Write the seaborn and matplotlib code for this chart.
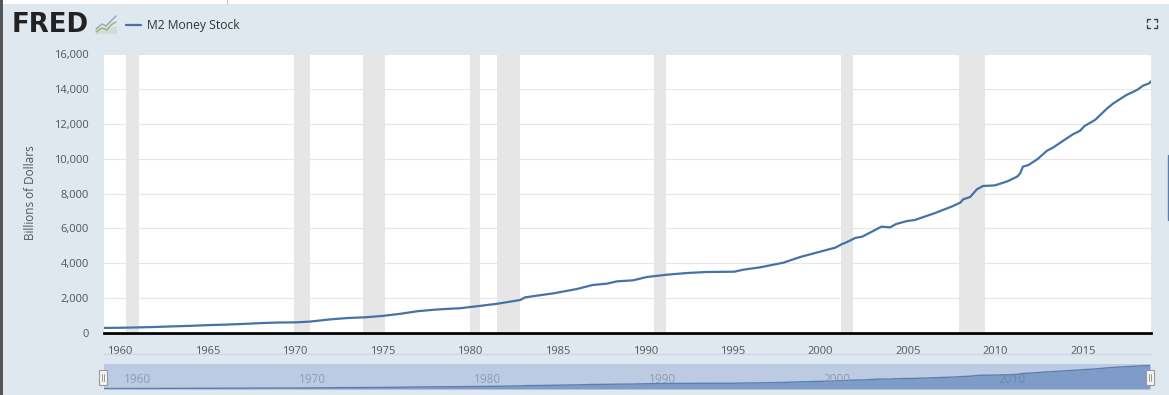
import matplotlib
matplotlib.use("Agg")
import matplotlib.pyplot as plt
from matplotlib.lines import Line2D
from matplotlib.patches import Rectangle
import pandas as pd
import seaborn as sns

years = [1959.0, 1960, 1961, 1962, 1963, 1964, 1965, 1966, 1967, 1968, 1969, 1970, 1970.8, 1972,
         1973, 1974, 1975, 1976, 1977, 1978, 1979, 1979.4, 1980.6, 1981.5, 1982.86, 1983.14, 1984.76,
         1986.1, 1987, 1987.8, 1988.4, 1989.3, 1990.1, 1991.26, 1992.4, 1993.5, 1995.1, 1995.6, 1996.57,
         1997.9, 1998.86, 2000.2, 2000.86, 2001.26, 2001.54, 2002, 2002.4, 2003.5, 2004, 2004.34, 2004.97,
         2005.4, 2006.46, 2007.5, 2008, 2008.17, 2008.57, 2008.95, 2009.3, 2009.7, 2010, 2010.7, 2011.25,
         2011.43, 2011.58, 2011.9, 2012.4, 2012.96, 2013.3, 2013.8, 2014.46, 2014.85, 2015.1, 2015.7,
         2016.4, 2016.75, 2017.5, 2018.1, 2018.44, 2018.8, 2018.9]
m2 = [290, 300, 320, 345, 380, 410, 450, 480, 520, 565, 600, 610, 650, 780,
      860, 900, 980, 1100, 1250, 1340, 1400, 1417, 1560, 1670, 1893, 2045, 2275,
      2523, 2753, 2828, 2963, 3020, 3211, 3345, 3441, 3498, 3516, 3630, 3766,
      4033, 4359, 4720, 4893, 5105, 5219, 5448, 5524, 6098, 6060, 6251, 6423,
      6480, 6842, 7245, 7473, 7665, 7800, 8240, 8430, 8450, 8470, 8700, 8965,
      9160, 9540, 9635, 9960, 10455, 10630, 10970, 11410, 11600, 11870, 12215,
      12885, 13170, 13650, 13935, 14180, 14320, 14430]
rec_start = [1960.33, 1969.95, 1973.85, 1980.0, 1981.55, 1990.5, 2001.2, 2007.92]
rec_end = [1961.1, 1970.87, 1975.15, 1980.55, 1982.87, 1991.17, 2001.87, 2009.41]
y_ticks = [0, 2000, 4000, 6000, 8000, 10000, 12000, 14000, 16000]
x_ticks = [1960, 1965, 1970, 1975, 1980, 1985, 1990, 1995, 2000, 2005, 2010, 2015]
nav_ticks = [1960, 1970, 1980, 1990, 2000, 2010]

df = pd.DataFrame({"year": years, "m2": m2})

W, H = 1169, 395
BG = "#dfe7ef"
LINE = "#4572a7"


def box(left, top, right, bottom):
    return [left / W, 1 - bottom / H, (right - left) / W, (bottom - top) / H]


sns.set_theme(style="white")
plt.rcParams["font.family"] = ["Open Sans", "DejaVu Sans"]

fig = plt.figure(figsize=(W / 100, H / 100), dpi=100, facecolor=BG)

# main chart
ax = fig.add_axes(box(104, 54, 1151, 333), facecolor="white")
for a, b in zip(rec_start, rec_end):
    ax.axvspan(a, b, color="#e6e6e6", lw=0, zorder=1)
ax.grid(axis="y", color="#e6e6e6", lw=0.8, zorder=2)
ax.set_axisbelow(False)
sns.lineplot(data=df, x="year", y="m2", color=LINE, lw=1.6, ax=ax, zorder=3)
ax.set_xlim(1959.08, 2018.9)
ax.set_ylim(0, 16000)
ax.set_xticks(x_ticks)
ax.set_xticklabels([str(t) for t in x_ticks], color="#555555", fontsize=8)
ax.set_yticks(y_ticks)
ax.set_yticklabels([f"{t:,}" for t in y_ticks], color="#555555", fontsize=8)
ax.tick_params(axis="y", length=0, pad=11)
ax.tick_params(axis="x", length=8, width=1, color="#d0d8e4", pad=1)
ax.set_xlabel("")
ax.set_ylabel("")
for s in ["top", "left", "right"]:
    ax.spines[s].set_visible(False)
ax.spines["bottom"].set_color("black")
ax.spines["bottom"].set_linewidth(2)
fig.text(30 / W, 1 - 193 / H, "Billions of Dollars", rotation=90, ha="center", va="center",
         fontsize=8.5, color="#555555")

# navigator
nav = fig.add_axes(box(104, 364, 1150, 389), facecolor="#bccae2")
nav.fill_between(years, m2, 0, color="#7f9cc8", lw=0, zorder=2)
nav.plot(years, m2, color="#5b7fb3", lw=1, zorder=3)
nav.set_xlim(1959.08, 2018.9)
nav.set_ylim(0, 15300)
nav.set_xticks([])
nav.set_yticks([])
for s in nav.spines.values():
    s.set_visible(False)
for t in nav_ticks:
    nav.text(t + 1, 0.37, str(t), transform=nav.get_xaxis_transform(), ha="center", va="center",
             fontsize=8.5, color="#6f86ad" if t == 2010 else "#8f9cb5", zorder=4)

# navigator handles
for px in (103, 1150):
    fig.add_artist(Rectangle(((px - 4) / W, 1 - 385 / H), 8 / W, 15 / H, transform=fig.transFigure,
                             fc="#f4f4f4", ec="#999999", lw=0.8))
    for d in (-1, 1):
        fig.add_artist(Line2D([(px + d) / W] * 2, [1 - 381 / H, 1 - 374 / H], color="#888888", lw=0.6))

# rule under x labels
fig.add_artist(Line2D([104 / W, 1151 / W], [1 - 354 / H] * 2, color="#cfd8e6", lw=1))

# page edges
fig.add_artist(Rectangle((0, 1 - 4 / H), 1, 4 / H, transform=fig.transFigure, fc="white", ec="none"))
fig.add_artist(Rectangle((0, 0), 2.5 / W, 1, transform=fig.transFigure, fc="#555555", ec="none"))
fig.add_artist(Line2D([226.5 / W] * 2, [1 - 4 / H, 1], color="#cccccc", lw=0.8))
fig.add_artist(Line2D([1168 / W] * 2, [1 - 220 / H, 1 - 155 / H], color="#5b7fb3", lw=1))

# logo and legend
fig.text(12 / W, 1 - 25 / H, "FRED", fontsize=18.7, fontweight="bold", color="#222222",
         family="DejaVu Sans", ha="left", va="center")
fig.add_artist(Rectangle((96 / W, 1 - 34 / H), 21 / W, 7 / H, transform=fig.transFigure,
                         fc="#d3dbd6", ec="none"))
fig.add_artist(Line2D([x / W for x in (96, 102, 106, 111, 116)],
                      [1 - y / H for y in (29, 24, 26, 21, 16)], color="#8fa8b8", lw=1))
fig.add_artist(Line2D([x / W for x in (96, 102, 107, 111, 116)],
                      [1 - y / H for y in (32, 28, 30, 25, 22)], color="#9db36f", lw=1))
fig.add_artist(Line2D([126 / W, 141 / W], [1 - 24.5 / H] * 2, color=LINE, lw=1.6))
fig.text(147 / W, 1 - 25 / H, "M2 Money Stock", fontsize=8.7, color="#333333", ha="left", va="center")

# fullscreen icon
cx0, cx1, cy0, cy1 = 1146.5, 1156.5, 18.5, 27.5
for xc, yc, dx, dy in [(cx0, cy0, 3, 3), (cx1, cy0, -3, 3), (cx0, cy1, 3, -3), (cx1, cy1, -3, -3)]:
    fig.add_artist(Line2D([(xc + dx) / W, xc / W, xc / W],
                          [1 - yc / H, 1 - yc / H, 1 - (yc + dy) / H], color="#444444", lw=1))

fig.savefig("out.png", dpi=100, facecolor=fig.get_facecolor())
